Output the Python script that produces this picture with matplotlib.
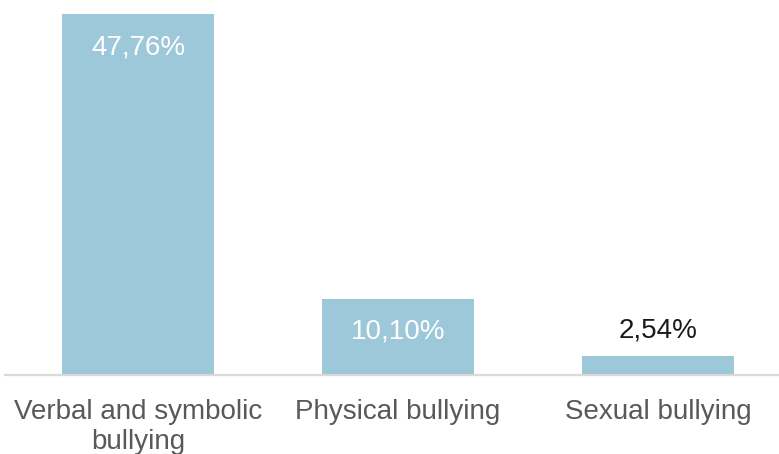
import matplotlib
matplotlib.use("Agg")
import matplotlib.pyplot as plt
from matplotlib.transforms import offset_copy

categories = ["Verbal and symbolic\nbullying", "Physical bullying", "Sexual bullying"]
values = [47.76, 10.10, 2.54]
value_labels = ["47,76%", "10,10%", "2,54%"]

plt.rcParams['font.family'] = ['Liberation Sans', 'DejaVu Sans']

W, H = 779, 454
fig = plt.figure(figsize=(W / 100, H / 100), dpi=100)
# axes in pixel coordinates
left_px, right_px = 5, 779
base_px, top_px = 375, 14
ax = fig.add_axes([left_px / W, (H - base_px) / H, (right_px - left_px) / W, (base_px - top_px) / H])

bar_color = "#9DC8D9"
x = list(range(len(values)))
ax.bar(x, values, width=0.585, color=bar_color, zorder=2)

# x range: centre 0 at 138px, spacing 260px
ax.set_xlim((left_px - 138) / 260, (right_px - 138) / 260)
ax.set_ylim(0, max(values))

for s in ["top", "right", "left"]:
    ax.spines[s].set_visible(False)
ax.spines["bottom"].set_color("#D9D9D9")
ax.spines["bottom"].set_linewidth(1.6)
ax.spines["bottom"].set_zorder(3)
ax.set_yticks([])
ax.set_xticks(x)
ax.set_xticklabels(categories, fontsize=20, color="#595959", linespacing=1.22)
ax.tick_params(axis="x", length=0, pad=17)

for xi, v, lab in zip(x, values, value_labels):
    if v > 5:
        tr = offset_copy(ax.transData, fig=fig, x=0, y=-33, units="dots")
        ax.text(xi, v, lab, transform=tr, ha="center", va="center", fontsize=20, color="white")
    else:
        tr = offset_copy(ax.transData, fig=fig, x=0, y=25, units="dots")
        ax.text(xi, v, lab, transform=tr, ha="center", va="center", fontsize=20, color="#1a1a1a")

fig.savefig("out.png", dpi=100)
